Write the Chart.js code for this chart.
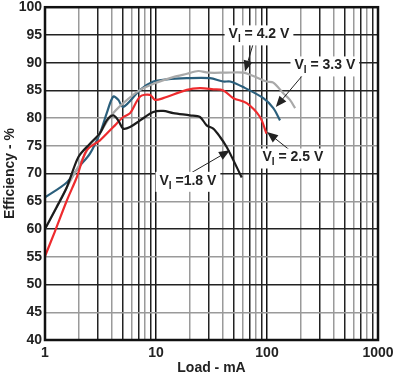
<!DOCTYPE html>
<html>
<head>
<meta charset="utf-8">
<script src="https://cdn.jsdelivr.net/npm/chart.js@4/dist/chart.umd.min.js"></script>
<style>
html,body{margin:0;padding:0;background:#fff;}
#wrap{width:405px;height:377px;}
</style>
</head>
<body>
<div id="wrap"><canvas id="c" width="405" height="377"></canvas></div>
<script>
// ---- data ----
const seriesNames = ["VI = 4.2 V", "VI = 3.3 V", "VI = 2.5 V", "VI = 1.8 V"];

const load42 = [1,1.57,2.07,2.54,3.13,3.85,5.07,7.2,10.1,14.3,19,24,29.6,43,61,75.3,99,114,140,161,179];
const eff42  = [60.0,67.5,71.8,75.1,77.3,80.2,82.7,85.1,86.4,87.4,88.0,88.5,88.2,88.2,88.2,87.6,86.6,86.4,84.5,83.3,81.8];

const load33 = [1,1.57,2.02,2.54,3.13,3.6,4.12,4.57,5.07,7.2,9.46,12.5,19,30.6,40.4,46.5,61,92.7,114,131];
const eff33  = [65.7,68.4,71.2,73.6,77.3,80.9,83.9,83.3,82.0,85.1,86.6,87.0,87.2,87.2,86.6,86.6,85.6,83.6,81.8,79.6];

const load25 = [1,1.23,1.57,1.93,2.37,3.13,4.12,5.07,5.84,7.2,8.83,9.8,11.6,19,24.9,32.8,40.4,49.8,65.6,86.5,99];
const eff25  = [55.1,59.6,65.1,69.3,74.2,76.0,78.4,80.2,80.9,83.9,84.2,83.3,83.6,85.1,85.4,85.2,85.0,83.6,82.7,80.2,77.2];

const load18 = [1,1.27,1.57,2.0,2.54,3.13,3.6,4.12,4.57,5.07,5.84,7.2,9.46,11.6,14.3,20.2,24.9,28.6,32.8,37.8,43.3,49.8,59.2];
const eff18  = [60.0,63.9,67.5,73.0,75.4,77.3,79.6,80.5,79.6,78.1,78.4,79.6,81.1,81.3,80.9,80.5,80.2,78.7,78.1,76.6,74.8,72.4,69.3];

const xTicks = [1,2,3,4,5,6,7,8,9,10,20,30,40,50,60,70,80,90,100,200,300,400,500,600,700,800,900,1000];
const xTickLabels = {1:"1",10:"10",100:"100",1000:"1000"};
const yMin = 40, yMax = 100, yStep = 5;

// annotation labels (data units)
const labels = [
  {pre:"V", sub:"I", rest:" = 4.2 V", lx:84.7, ly:95.1, tx:74.8, ty:93.3, hx:63.3, hy:88.4},
  {pre:"V", sub:"I", rest:" = 3.3 V", lx:332, ly:89.5, tx:211, ty:87.8, hx:120, hy:82.0},
  {pre:"V", sub:"I", rest:" = 2.5 V", lx:171, ly:72.9, tx:161, ty:74.2, hx:100, hy:77.5},
  {pre:"V", sub:"I", rest:" =1.8 V", lx:19.4, ly:68.7, tx:20.2, ty:70.0, hx:46.4, hy:74.2}
];

function pts(xs, ys){ return xs.map((x,i)=>({x:x,y:ys[i]})); }

const FONT = "'Liberation Sans', Arial, sans-serif";

const annotPlugin = {
  id:'annot',
  afterDatasetsDraw(chart){
    const ctx = chart.ctx, xs = chart.scales.x, ys = chart.scales.y;
    ctx.save();
    labels.forEach(l=>{
      const x1 = xs.getPixelForValue(l.tx), y1 = ys.getPixelForValue(l.ty);
      const x2 = xs.getPixelForValue(l.hx), y2 = ys.getPixelForValue(l.hy);
      ctx.strokeStyle = '#222'; ctx.lineWidth = 1;
      const ang = Math.atan2(y2-y1, x2-x1);
      const hl = 11, hw = 4.5;
      ctx.beginPath(); ctx.moveTo(x1,y1); ctx.lineTo(x2-Math.cos(ang)*hl*0.8, y2-Math.sin(ang)*hl*0.8); ctx.stroke();
      ctx.fillStyle = '#222';
      ctx.beginPath();
      ctx.moveTo(x2,y2);
      ctx.lineTo(x2-Math.cos(ang)*hl - Math.sin(ang)*hw, y2-Math.sin(ang)*hl + Math.cos(ang)*hw);
      ctx.lineTo(x2-Math.cos(ang)*hl + Math.sin(ang)*hw, y2-Math.sin(ang)*hl - Math.cos(ang)*hw);
      ctx.closePath(); ctx.fill();
    });
    labels.forEach(l=>{
      const cx = xs.getPixelForValue(l.lx), cy = ys.getPixelForValue(l.ly);
      const big = "bold 14px " + FONT, small = "bold 10px " + FONT;
      ctx.font = big; const w1 = ctx.measureText(l.pre).width; const w3 = ctx.measureText(l.rest).width;
      ctx.font = small; const w2 = ctx.measureText(l.sub).width;
      const tw = w1+w2+w3;
      const x0 = cx - tw/2;
      ctx.fillStyle = '#fff';
      ctx.fillRect(x0-4, cy-9, tw+8, 20);
      ctx.fillStyle = '#222';
      ctx.textBaseline = 'middle'; ctx.textAlign = 'left';
      ctx.font = big; ctx.fillText(l.pre, x0, cy);
      ctx.font = small; ctx.fillText(l.sub, x0+w1, cy+5);
      ctx.font = big; ctx.fillText(l.rest, x0+w1+w2, cy);
    });
    ctx.restore();
  },
  afterDraw(chart){
    const a = chart.chartArea, ctx = chart.ctx;
    ctx.save();
    ctx.strokeStyle = '#111'; ctx.lineWidth = 2.5;
    ctx.strokeRect(a.left, a.top, a.right-a.left, a.bottom-a.top);
    ctx.restore();
  }
};

const xGridColor = (ctx)=>{
  const v = ctx.tick && ctx.tick.value;
  if (v===undefined) return '#333';
  const m = Math.round(v / Math.pow(10, Math.floor(Math.log10(v)+1e-9)));
  if (m===1) return '#111';
  return ([2,4,6,8].includes(m)) ? '#9a9a9a' : '#222';
};
const yGridColor = (ctx)=>{
  const v = ctx.tick && ctx.tick.value;
  return ([80,75,65,55,45].includes(v)) ? '#9a9a9a' : '#222';
};

new Chart(document.getElementById('c'), {
  type:'line',
  data:{
    datasets:[
      {label:seriesNames[0], data:pts(load42,eff42), borderColor:'#a9a9a9', borderWidth:2.2, order:2},
      {label:seriesNames[1], data:pts(load33,eff33), borderColor:'#2b5f7c', borderWidth:2.2, order:3},
      {label:seriesNames[2], data:pts(load25,eff25), borderColor:'#ee2b2e', borderWidth:2.2, order:1},
      {label:seriesNames[3], data:pts(load18,eff18), borderColor:'#1c1c1c', borderWidth:2.2, order:0}
    ]
  },
  options:{
    responsive:false, animation:false, devicePixelRatio:1,
    layout:{padding:{top:0, right:27, left:0, bottom:0}},
    elements:{point:{radius:0}, line:{tension:0.3, fill:false}},
    plugins:{legend:{display:false}, tooltip:{enabled:false}},
    scales:{
      x:{
        type:'logarithmic', min:1, max:1000,
        afterBuildTicks(s){ s.ticks = xTicks.map(v=>({value:v})); },
        afterFit(s){ s.height = 37; },
        ticks:{ autoSkip:false, maxRotation:0, padding:6, color:'#222',
          font:{family:FONT, size:14, weight:'bold', lineHeight:1},
          callback:(v)=> xTickLabels[v] || '' },
        grid:{ color:xGridColor, lineWidth:1.5, drawTicks:false },
        border:{display:false},
        title:{display:true, text:'Load - mA', color:'#222', padding:{top:3,bottom:0},
          font:{family:FONT, size:14, weight:'bold', lineHeight:1.2}}
      },
      y:{
        min:yMin, max:yMax,
        afterBuildTicks(s){ const t=[]; for(let v=yMin; v<=yMax; v+=yStep) t.push({value:v}); s.ticks=t; },
        afterFit(s){ s.width = 45; },
        ticks:{ padding:3, color:'#222', font:{family:FONT, size:14, weight:'bold', lineHeight:0.6} },
        grid:{ color:yGridColor, lineWidth:1.5, drawTicks:false },
        border:{display:false},
        title:{display:true, text:'Efficiency - %', color:'#222', padding:{top:2,bottom:0},
          font:{family:FONT, size:14, weight:'bold'}}
      }
    }
  },
  plugins:[annotPlugin]
});
</script>
</body>
</html>
